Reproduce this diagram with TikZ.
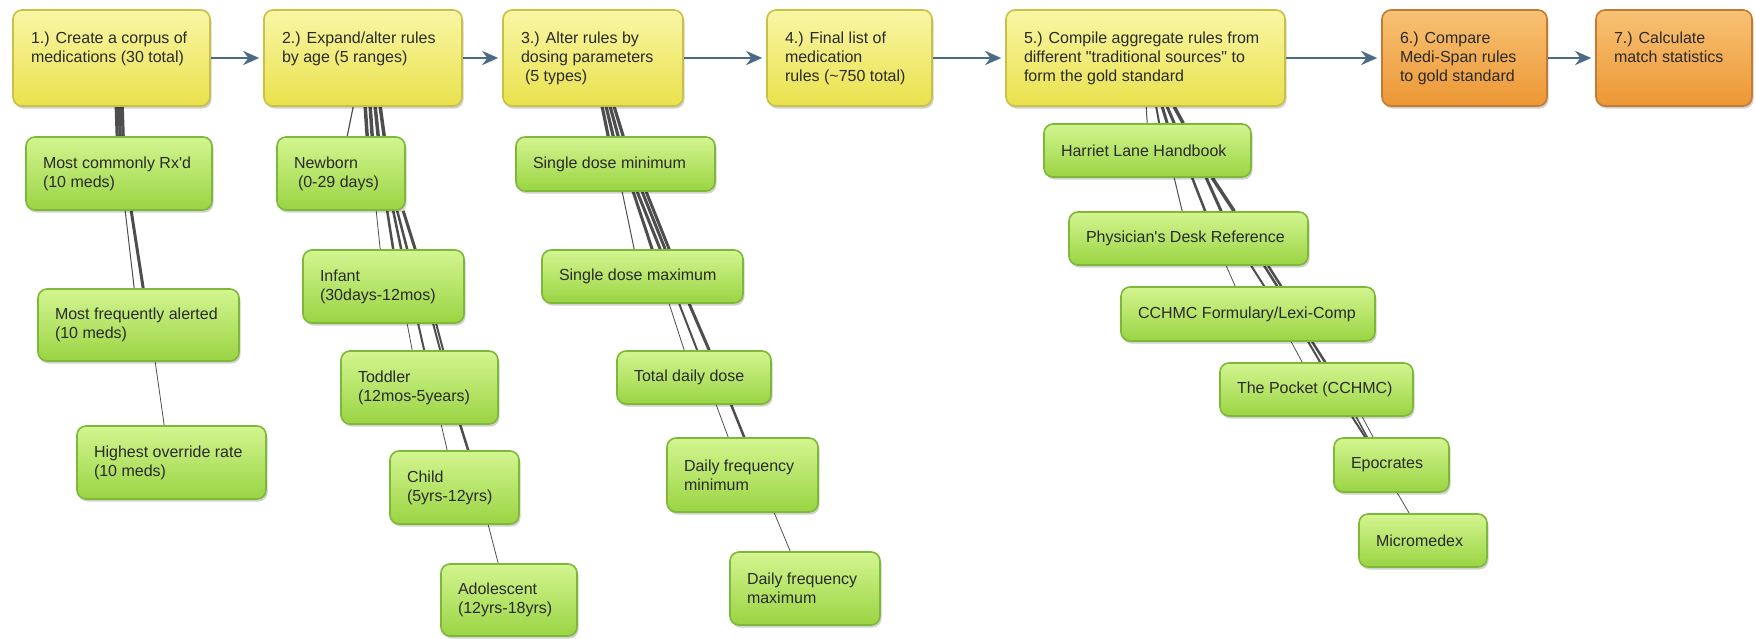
\documentclass[tikz,border=0pt]{standalone}
\usepackage{fontspec}
\newfontfamily\lsans{Liberation Sans}
\usetikzlibrary{arrows.meta,shadows,backgrounds}

\definecolor{ytop}{HTML}{F9F6A6}
\definecolor{ymid}{HTML}{F2EC68}
\definecolor{ybot}{HTML}{E9E14C}
\definecolor{yedge}{HTML}{C9C146}
\definecolor{gtop}{HTML}{D3F590}
\definecolor{gmid}{HTML}{B6E763}
\definecolor{gbot}{HTML}{9AD443}
\definecolor{gedge}{HTML}{7EB838}
\definecolor{otop}{HTML}{F8C274}
\definecolor{omid}{HTML}{F2A848}
\definecolor{obot}{HTML}{EC9734}
\definecolor{oedge}{HTML}{C47A32}
\definecolor{arr}{HTML}{4A6A86}
\definecolor{lnk}{HTML}{4E4E4E}
\definecolor{txt}{HTML}{2A2A2A}

\tikzset{
  basebox/.style={rounded corners=9pt, line width=1.6pt, inner sep=0pt,
    drop shadow={shadow xshift=1.5pt, shadow yshift=-2.5pt, fill=black, opacity=0.18}},
  ybox/.style={basebox, draw=yedge, top color=ytop, middle color=ymid, bottom color=ybot},
  obox/.style={basebox, draw=oedge, top color=otop, middle color=omid, bottom color=obot},
  gbox/.style={basebox, draw=gedge, top color=gtop, middle color=gmid, bottom color=gbot},
  flow/.style={draw=arr, line width=2.8pt, -{Stealth[length=16pt,width=14pt]}, shorten >=4pt},
  link/.style={draw=lnk},
}

% top-aligned box: name, style, x1, y1, x2, y2, text
\newcommand\tbox[7]{%
  \node[#2, minimum width={(#5-#3)*1pt}, minimum height={(#6-#4)*1pt}] (#1)
    at ({(#3+#5)/2},{(#4+#6)/2})
    {\parbox[c][\dimexpr #6pt-#4pt-42pt\relax][t]{\dimexpr #5pt-#3pt-36pt\relax}{\raggedright\rule{0pt}{12pt}#7}};}
% vertically centred box
\newcommand\cbox[7]{%
  \node[#2, minimum width={(#5-#3)*1pt}, minimum height={(#6-#4)*1pt}] (#1)
    at ({(#3+#5)/2},{(#4+#6)/2})
    {\parbox{\dimexpr #5pt-#3pt-34pt\relax}{\raggedright #7}};}
% connector: parent, offset on parent bottom, child, offset on child top, width
\newcommand\conn[5]{%
  \draw[link, line width=#5pt] ([xshift=#2pt]#1.south west) -- ([xshift=#4pt]#3.north west);}

\begin{document}
\begin{tikzpicture}[x=1pt, y=-1pt,
  every node/.style={font=\lsans\fontsize{16}{19}\selectfont, text=txt}]
\useasboundingbox (0,0) rectangle (1756,638);

% main flow
\tbox{b1}{ybox}{13}{10}{210}{106}{1.) Create a corpus of\\medications (30 total)}
\tbox{b2}{ybox}{264}{10}{462}{106}{2.) Expand/alter rules\\by age (5 ranges)}
\tbox{b3}{ybox}{503}{10}{683}{106}{3.) Alter rules by\\dosing parameters\\\hspace*{4pt}(5 types)}
\tbox{b4}{ybox}{767}{10}{932}{106}{4.) Final list of\\medication\\rules (\char"7E 750 total)}
\tbox{b5}{ybox}{1006}{10}{1285}{106}{5.) Compile aggregate rules from\\different "traditional sources" to\\form the gold standard}
\tbox{b6}{obox}{1382}{10}{1547}{106}{6.) Compare\\Medi-Span rules\\to gold standard}
\tbox{b7}{obox}{1596}{10}{1752}{106}{7.) Calculate\\match statistics}

% column 1
\cbox{g11}{gbox}{26}{137}{212}{210}{Most commonly Rx'd\\(10 meds)}
\cbox{g12}{gbox}{38}{289}{239}{361}{Most frequently alerted\\(10 meds)}
\cbox{g13}{gbox}{77}{426}{266}{499}{Highest override rate\\(10 meds)}
% column 2
\cbox{g21}{gbox}{277}{137}{405}{210}{Newborn\\\hspace*{4pt}(0-29 days)}
\cbox{g22}{gbox}{303}{250}{464}{323}{Infant\\(30days-12mos)}
\cbox{g23}{gbox}{341}{351}{498}{424}{Toddler\\(12mos-5years)}
\cbox{g24}{gbox}{390}{451}{519}{524}{Child\\(5yrs-12yrs)}
\cbox{g25}{gbox}{441}{564}{577}{636}{Adolescent\\(12yrs-18yrs)}
% column 3
\cbox{g31}{gbox}{516}{137}{715}{191}{Single dose minimum}
\cbox{g32}{gbox}{542}{250}{743}{303}{Single dose maximum}
\cbox{g33}{gbox}{617}{351}{771}{404}{Total daily dose}
\cbox{g34}{gbox}{667}{438}{818}{512}{Daily frequency\\minimum}
\cbox{g35}{gbox}{730}{552}{880}{625}{Daily frequency\\maximum}
% column 5
\cbox{g51}{gbox}{1044}{124}{1251}{177}{Harriet Lane Handbook}
\cbox{g52}{gbox}{1069}{212}{1308}{265}{Physician's Desk Reference}
\cbox{g53}{gbox}{1121}{287}{1375}{341}{CCHMC Formulary/Lexi-Comp}
\cbox{g54}{gbox}{1220}{363}{1413}{416}{The Pocket (CCHMC)}
\cbox{g55}{gbox}{1334}{438}{1449}{492}{Epocrates}
\cbox{g56}{gbox}{1359}{514}{1487}{567}{Micromedex}

% flow arrows
\draw[flow] (b1) -- (b2);
\draw[flow] (b2) -- (b3);
\draw[flow] (b3) -- (b4);
\draw[flow] (b4) -- (b5);
\draw[flow] (b5) -- (b6);
\draw[flow] (b6) -- (b7);

\begin{scope}[on background layer]
% column 1
\conn{b1}{104}{g11}{92}{3.2}
\conn{b1}{107}{g11}{95}{3.2}
\conn{b1}{110}{g11}{98}{3.2}
\conn{g11}{100}{g12}{97}{1}
\conn{g11}{106}{g12}{106}{3}
\conn{g12}{118}{g13}{88}{0.8}
% column 2
\conn{b2}{90}{g21}{71}{1.2}
\conn{b2}{102}{g21}{91}{3.5}
\conn{b2}{107}{g21}{96}{3.5}
\conn{b2}{112}{g21}{102}{3.5}
\conn{b2}{117}{g21}{108}{3.5}
\conn{g21}{100}{g22}{78}{0.8}
\conn{g21}{111}{g22}{91}{2.5}
\conn{g21}{117}{g22}{99}{2.5}
\conn{g21}{121}{g22}{105}{2.5}
\conn{g21}{127}{g22}{113}{3}
\conn{g22}{105}{g23}{72}{0.8}
\conn{g22}{116}{g23}{84}{2}
\conn{g22}{131}{g23}{100}{2}
\conn{g22}{134}{g23}{103}{2}
\conn{g23}{101}{g24}{58}{0.8}
\conn{g23}{120}{g24}{79}{2.5}
\conn{g24}{99}{g25}{58}{0.8}
% column 3
\conn{b3}{100}{g31}{93}{3.2}
\conn{b3}{104}{g31}{98}{3.2}
\conn{b3}{108}{g31}{103}{3.2}
\conn{b3}{112}{g31}{108}{3.2}
\conn{g31}{107}{g32}{93}{1}
\conn{g31}{118}{g32}{111}{3}
\conn{g31}{122}{g32}{119}{3}
\conn{g31}{127}{g32}{124}{3}
\conn{g31}{131}{g32}{128}{3}
\conn{g32}{128}{g33}{68}{0.8}
\conn{g32}{138}{g33}{81}{2}
\conn{g32}{148}{g33}{93}{3}
\conn{g33}{100}{g34}{62}{0.8}
\conn{g33}{115}{g34}{78}{2.5}
\conn{g34}{108}{g35}{61}{0.8}
% column 5
\conn{b5}{141}{g51}{104}{1}
\conn{b5}{151}{g51}{116}{2}
\conn{b5}{157}{g51}{124}{3}
\conn{b5}{162}{g51}{131}{3}
\conn{b5}{169}{g51}{140}{3.5}
\conn{g51}{131}{g52}{114}{1}
\conn{g51}{149}{g52}{137}{2.5}
\conn{g51}{163}{g52}{153}{3}
\conn{g51}{169}{g52}{166}{3.5}
\conn{g52}{158}{g53}{115}{0.8}
\conn{g52}{183}{g53}{144}{2}
\conn{g52}{196}{g53}{157}{2.5}
\conn{g52}{200}{g53}{161}{2.5}
\conn{g53}{171}{g54}{83}{0.8}
\conn{g53}{188}{g54}{101}{2}
\conn{g53}{192}{g54}{106}{2.5}
\conn{g54}{133}{g55}{32}{2}
\conn{g54}{137}{g55}{34}{1.5}
\conn{g54}{143}{g55}{40}{0.8}
\conn{g55}{64}{g56}{51}{0.8}
\end{scope}
\end{tikzpicture}
\end{document}
